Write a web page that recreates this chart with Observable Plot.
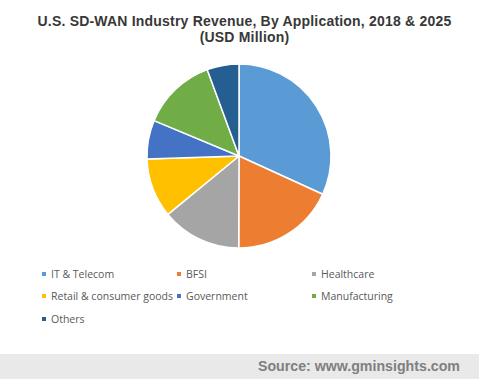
<!DOCTYPE html>
<html><head><meta charset="utf-8">
<script src="https://cdn.jsdelivr.net/npm/d3@7"></script>
<script src="https://cdn.jsdelivr.net/npm/@observablehq/plot@0.6"></script>
<style>
body{margin:0;background:#fff;}
#wrap{position:relative;width:479px;height:379px;overflow:hidden;font-family:"Open Sans",sans-serif;}
#title{position:absolute;top:14px;left:5px;width:479px;text-align:center;font:bold 14px "Liberation Sans",Arial,sans-serif;color:#383838;line-height:15.5px;letter-spacing:0.2px;}
#chart{position:absolute;left:0;top:56px;}
.leg{position:absolute;font-size:10.5px;color:#595959;white-space:nowrap;line-height:14px;}
.sw{position:absolute;width:4px;height:4px;}
#source{position:absolute;left:0;top:354px;width:479px;height:25px;background:#e9e9e9;}
#source span{position:absolute;right:19px;top:4px;font:bold 14.2px "Liberation Sans",Arial,sans-serif;color:#7f7f7f;line-height:16px;}
</style>
</head><body>
<div id="wrap">
  <div id="title">U.S. SD-WAN Industry Revenue, By Application, 2018 &amp; 2025<br>(USD Million)</div>
  <div id="chart"></div>
  <div id="legend"></div>
  <div id="source"><span>Source: www.gminsights.com</span></div>
</div>
<script>
const categories = ["IT & Telecom", "BFSI", "Healthcare", "Retail & consumer goods", "Government", "Manufacturing", "Others"];
const shares = [31.8, 18.2, 14.0, 10.4, 6.8, 13.1, 5.6];
const colors = ["#5b9bd5", "#ed7d31", "#a5a5a5", "#ffc000", "#4472c4", "#70ad47", "#255e91"];

const data = categories.map((category, i) => ({category, share: shares[i]}));
const arcs = d3.pie().sort(null).value(d => d.share)(data);

function pieMark(index, scales) {
  const cx = scales.x(0), cy = scales.y(0), r = scales.x(1) - scales.x(0);
  const arc = d3.arc().innerRadius(0).outerRadius(r);
  const g = d3.create("svg:g").attr("transform", `translate(${cx},${cy})`);
  g.selectAll("path").data(arcs).join("path")
    .attr("d", arc)
    .attr("fill", d => scales.color(d.data.category))
    .attr("stroke", "#fff")
    .attr("stroke-width", 1.5)
    .attr("stroke-linejoin", "round");
  return g.node();
}

const chart = Plot.plot({
  width: 479,
  height: 200,
  marginLeft: 147,
  marginRight: 148,
  marginTop: 8,
  marginBottom: 8,
  x: {domain: [-1, 1], axis: null},
  y: {domain: [-1, 1], axis: null},
  color: {domain: categories, range: colors},
  marks: [
    Plot.dot(data, {x: () => 0, y: () => 0, fill: "category", r: 0}),
    pieMark
  ]
});
document.getElementById("chart").append(chart);

// legend (colors from the Plot color scale)
const colorScale = chart.scale("color");
const rowY = [274, 296, 319];
const colX = [42, 177, 312];
const legend = document.getElementById("legend");
categories.forEach((c, i) => {
  const row = Math.floor(i / 3), col = i % 3;
  const sw = document.createElement("div");
  sw.className = "sw";
  sw.style.left = colX[col] + "px";
  sw.style.top = (rowY[row] - 2) + "px";
  sw.style.background = colorScale.apply(c);
  legend.append(sw);
  const t = document.createElement("div");
  t.className = "leg";
  t.style.left = (colX[col] + 9) + "px";
  t.style.top = (rowY[row] - 7) + "px";
  t.textContent = c;
  legend.append(t);
});
</script>
</body></html>
